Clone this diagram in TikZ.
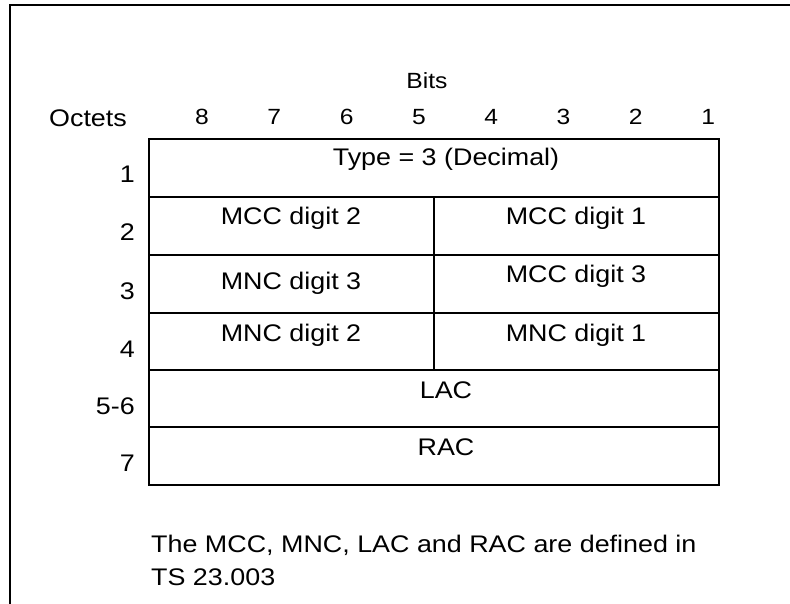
\documentclass[tikz,border=0pt]{standalone}
\usepackage{fontspec}
\setmainfont[FakeStretch=1.12]{Liberation Sans}
\usepackage{tikz}
\tikzset{
  txt/.style = {anchor=base, inner sep=0pt, font=\fontsize{24}{28}\selectfont},
  bit/.style = {anchor=base, inner sep=0pt, font=\fontsize{22}{26}\selectfont},
  octet/.style = {anchor=base east, inner sep=0pt, font=\fontsize{24}{28}\selectfont},
  note/.style = {anchor=base west, inner sep=0pt, font=\fontsize{24}{28}\selectfont},
  cell line/.style = {line width=2.2pt, black}
}

\begin{document}
\begin{tikzpicture}[x=1pt,y=-1pt]
\useasboundingbox (0,0) rectangle (790,604);
% outer frame (top and left only)
\draw[line width=2pt] (9.5,604) -- (9.5,5.5) -- (790,5.5);

% the table
\draw[cell line] (149,139) rectangle (719,485);
\draw[cell line] (149,197) -- (719,197);
\draw[cell line] (149,255) -- (719,255);
\draw[cell line] (149,313) -- (719,313);
\draw[cell line] (149,370) -- (719,370);
\draw[cell line] (149,427) -- (719,427);
\draw[cell line] (434,197) -- (434,370);

% header
\node[bit] (bits) at (427,89) {Bits};
\node[txt] (octets) at (88,127) {Octets};
\node[bit] (b8) at (202,125) {8};
\node[bit] (b7) at (274.3,125) {7};
\node[bit] (b6) at (346.6,125) {6};
\node[bit] (b5) at (418.9,125) {5};
\node[bit] (b4) at (491.2,125) {4};
\node[bit] (b3) at (563.5,125) {3};
\node[bit] (b2) at (635.8,125) {2};
\node[bit] (b1) at (708.1,125) {1};

% octet numbers
\node[octet] (o1) at (135,183) {1};
\node[octet] (o2) at (135,241) {2};
\node[octet] (o3) at (135,299) {3};
\node[octet] (o4) at (135,357) {4};
\node[octet] (o56) at (135,414) {5-6};
\node[octet] (o7) at (135,471) {7};

% fields
\node[txt] (type) at (446,166) {Type = 3 (Decimal)};
\node[txt] (mcc2) at (291,225) {MCC digit 2};
\node[txt] (mcc1) at (576,225) {MCC digit 1};
\node[txt] (mnc3) at (291,289) {MNC digit 3};
\node[txt] (mcc3) at (576,283) {MCC digit 3};
\node[txt] (mnc2) at (291,341) {MNC digit 2};
\node[txt] (mnc1) at (576,341) {MNC digit 1};
\node[txt] (lac) at (446,398) {LAC};
\node[txt] (rac) at (446,455) {RAC};

% note below
\node[note] (note1) at (151,552) {The MCC, MNC, LAC and RAC are defined in};
\node[note] (note2) at (151,585) {TS 23.003};
\end{tikzpicture}
\end{document}
